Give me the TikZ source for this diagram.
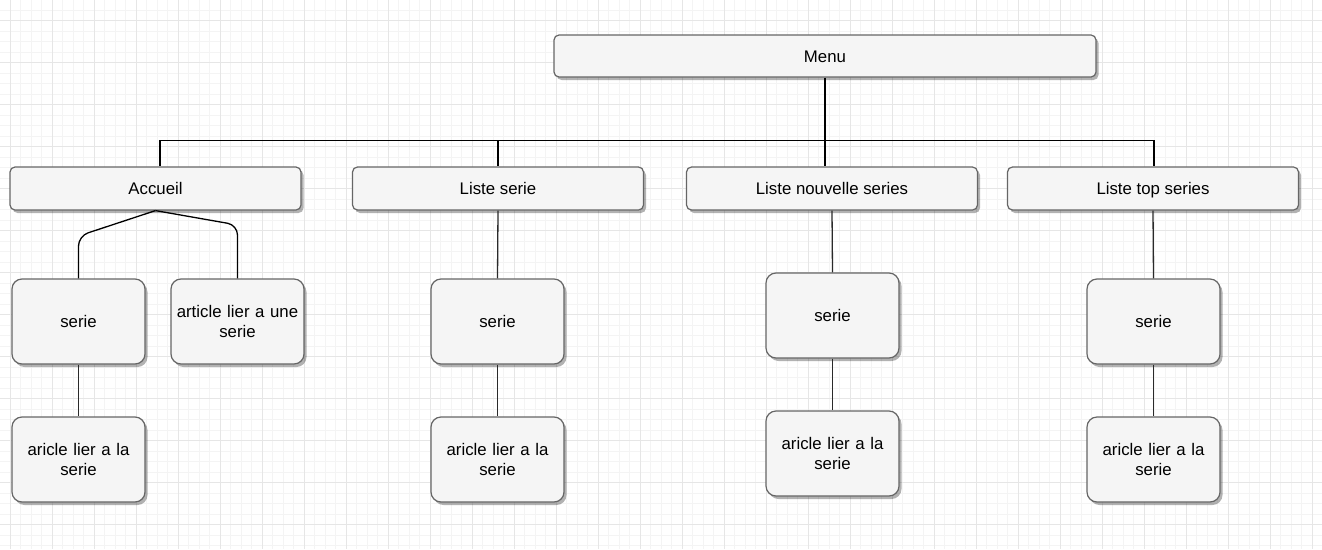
\documentclass[tikz,border=0pt]{standalone}
\usepackage{fontspec}
\setmainfont{Liberation Sans}
\usetikzlibrary{shadows}
\definecolor{boxfill}{HTML}{F5F5F5}
\definecolor{boxline}{HTML}{666666}
\definecolor{gridminor}{HTML}{F4F4F4}
\definecolor{gridmajor}{HTML}{E6E6E6}
\definecolor{linkgray}{HTML}{2A2A2A}
\tikzset{
  box/.style={draw=boxline, fill=boxfill, line width=1.2pt, rounded corners=#1,
    drop shadow={shadow xshift=2.5pt, shadow yshift=-3pt, fill=black, opacity=0.3},
    font=\fontsize{16.8}{20.6}\selectfont, align=center, inner sep=0pt},
  widebox/.style={box=5pt, minimum width=291pt, minimum height=43pt, text height=13.8pt, text depth=1.8pt},
  smallbox/.style={box=10pt, minimum width=133pt, minimum height=85pt, text width=128pt},
  link/.style={line width=1.3pt, draw=black},
  sublink/.style={line width=1.3pt, draw=linkgray},
}
\begin{document}
\begin{tikzpicture}[x=1pt,y=-1pt]
\useasboundingbox (0,0) rectangle (1322,549);
\fill[white] (0,0) rectangle (1322,549);
% grid
\foreach \i in {0,...,127} {
  \pgfmathsetmacro{\xx}{-0.5+10.5*\i}
  \draw[gridminor, line width=0.7pt] (\xx,0) -- (\xx,549);
}
\foreach \i in {0,...,53} {
  \pgfmathsetmacro{\yy}{-0.3+10.5*\i}
  \draw[gridminor, line width=0.7pt] (0,\yy) -- (1322,\yy);
}
\foreach \i in {0,...,31} {
  \pgfmathsetmacro{\xx}{10+42*\i}
  \draw[gridmajor, line width=0.8pt] (\xx,0) -- (\xx,549);
}
\foreach \i in {0,...,13} {
  \pgfmathsetmacro{\yy}{20.7+42*\i}
  \draw[gridmajor, line width=0.8pt] (0,\yy) -- (1322,\yy);
}

% nodes
\node[widebox, minimum width=542pt, minimum height=42pt] (menu) at (825,56) {Menu};
\node[widebox] (acc) at (155.5,188.5) {Accueil};
\node[widebox] (ls) at (498,188.5) {Liste serie};
\node[widebox] (lns) at (832,188.5) {Liste nouvelle series};
\node[widebox] (lts) at (1153,188.5) {Liste top series};

\node[smallbox] (s1) at (78.5,321.5) {serie};
\node[smallbox] (art) at (237.5,321.5) {article lier a une\\serie};
\node[smallbox] (s2) at (497.5,321.5) {serie};
\node[smallbox] (s3) at (832.5,315.5) {serie};
\node[smallbox] (s4) at (1153.5,321.5) {serie};

\node[smallbox] (a1) at (78.5,459.5) {aricle lier a la\\serie};
\node[smallbox] (a2) at (497.5,459.5) {aricle lier a la\\serie};
\node[smallbox] (a3) at (832.5,453.5) {aricle lier a la\\serie};
\node[smallbox] (a4) at (1153.5,459.5) {aricle lier a la\\serie};

% connectors from Menu
\coordinate (j) at (825,140.5);
\draw[link, line width=2.2pt] (menu.south) -- (j);
\draw[link] (j) -| ([xshift=4.5pt]acc.north);
\draw[link] (j) -| (ls.north);
\draw[link] (j) -- (j |- lns.north);
\draw[link] (j) -| ([xshift=1pt]lts.north);

% Accueil branches
\coordinate (bl) at (78.5,236);
\coordinate (br) at (237.5,225);
\draw[link, rounded corners=10pt] (acc.south) -- (bl) -- (s1.north);
\draw[link, rounded corners=10pt] (acc.south) -- (br) -- (art.north);

% vertical links
\draw[sublink] (ls.south) -- (s2.north);
\draw[sublink] (lns.south) -- (s3.north);
\draw[sublink] (lts.south) -- (s4.north);
\draw[sublink] (s1.south) -- (a1.north);
\draw[sublink] (s2.south) -- (a2.north);
\draw[sublink] (s3.south) -- (a3.north);
\draw[sublink] (s4.south) -- (a4.north);
\end{tikzpicture}
\end{document}
